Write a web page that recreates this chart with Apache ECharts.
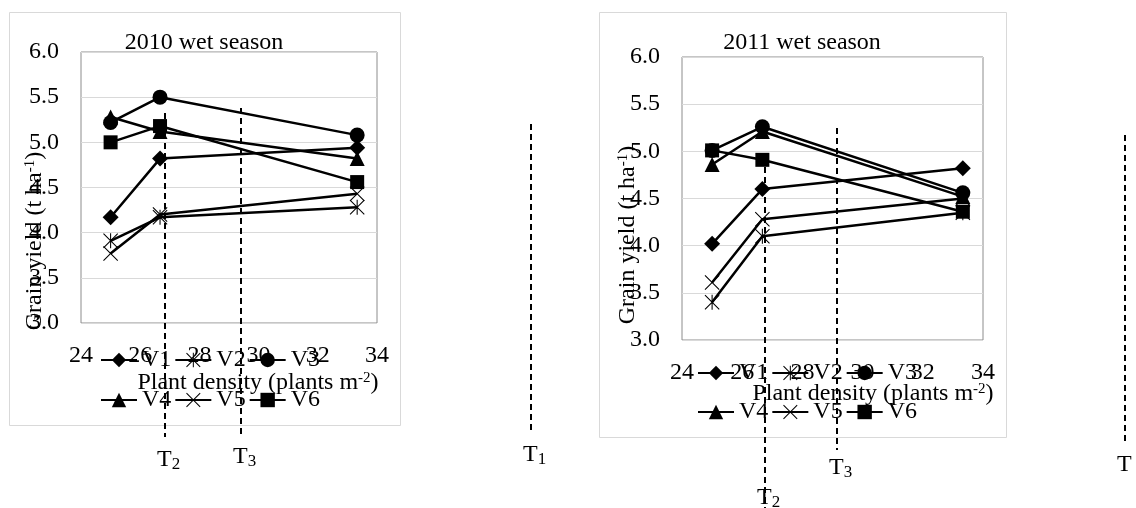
<!DOCTYPE html>
<html>
<head>
<meta charset="utf-8">
<script src="https://cdn.jsdelivr.net/npm/echarts@6/dist/echarts.min.js"></script>
<style>
  html, body { margin: 0; padding: 0; background: #fff; }
  #chart { width: 1136px; height: 508px; }
</style>
</head>
<body>
<div id="chart"></div>
<script>
// plant density (plants m-2)
const density = [25, 26.67, 33.33]
const xTicks = [24, 26, 28, 30, 32, 34]
const yTicks = [3.0, 3.5, 4.0, 4.5, 5.0, 5.5, 6.0]
const varieties = ['V1', 'V2', 'V3', 'V4', 'V5', 'V6']

// grain yield (t ha-1), 2010 wet season
const v1_2010 = [4.17, 4.82, 4.94]
const v2_2010 = [3.91, 4.17, 4.28]
const v3_2010 = [5.22, 5.50, 5.08]
const v4_2010 = [5.28, 5.12, 4.82]
const v5_2010 = [3.77, 4.20, 4.43]
const v6_2010 = [5.00, 5.18, 4.56]

// grain yield (t ha-1), 2011 wet season
const v1_2011 = [4.02, 4.60, 4.82]
const v2_2011 = [3.40, 4.10, 4.35]
const v3_2011 = [5.01, 5.26, 4.56]
const v4_2011 = [4.86, 5.21, 4.52]
const v5_2011 = [3.61, 4.28, 4.50]
const v6_2011 = [5.01, 4.91, 4.36]

const FONT = '"Liberation Serif", "Times New Roman", serif'

// 标记形状
const xPath = 'path://M1,0 L10,9 L19,0 L20,1 L11,10 L20,19 L19,20 L10,11 L1,20 L0,19 L9,10 L0,1 Z'
const starPath = 'path://M1,0 L10,9 L19,0 L20,1 L11,10 L20,19 L19,20 L10,11 L1,20 L0,19 L9,10 L0,1 Z M9.3,0 L10.7,0 L10.7,20 L9.3,20 Z'
const symbols = {
  V1: ['diamond', 16],
  V2: [starPath, 15],
  V3: ['circle', 15],
  V4: ['triangle', 15],
  V5: [xPath, 15],
  V6: ['rect', 14]
}

function makeSeries(name, values, idx) {
  return {
    name: name,
    type: 'line',
    xAxisIndex: idx,
    yAxisIndex: idx,
    data: values.map((v, i) => [density[i], v]),
    symbol: symbols[name][0],
    symbolSize: symbols[name][1],
    showAllSymbol: true,
    color: '#000',
    lineStyle: { color: '#000', width: 2.5 },
    itemStyle: { color: '#000' },
    animation: false
  }
}

const data2010 = [v1_2010, v2_2010, v3_2010, v4_2010, v5_2010, v6_2010]
const data2011 = [v1_2011, v2_2011, v3_2011, v4_2011, v5_2011, v6_2011]

// 面板布局
const panels = [
  { box: [9, 12, 391, 413], grid: [81, 52, 296, 271], title: [204, 43, '2010 wet season'],
    yName: [35, 241], xName: [258, 383], legendLeft: 100, legendRows: [361, 401] },
  { box: [599, 12, 407, 425], grid: [682, 57, 301, 283], title: [802, 43, '2011 wet season'],
    yName: [628, 235], xName: [873, 394], legendLeft: 697, legendRows: [374, 413] }
]
// 虚线 T 标注 [x, y1, y2, 标签, 标签y]
const tLines = [
  [165, 113, 437, '2', 460],
  [241, 108, 437, '3', 457],
  [531, 124, 433, '1', 455],
  [765, 167, 508, '2', 498],
  [837, 128, 450, '3', 468],
  [1125, 135, 443, '', 465]
]

const richSup = {
  a: { fontFamily: FONT, fontSize: 24, color: '#000' },
  s: { fontFamily: FONT, fontSize: 15, color: '#000', verticalAlign: 'top', padding: [0, 0, 9, 0] }
}
const richSub = {
  a: { fontFamily: FONT, fontSize: 24, color: '#000' },
  s: { fontFamily: FONT, fontSize: 17, color: '#000', verticalAlign: 'bottom', padding: [9, 0, 0, 0] }
}

const graphics = []
panels.forEach(p => {
  graphics.push({
    type: 'rect', z: -1,
    shape: { x: p.box[0] + 0.5, y: p.box[1] + 0.5, width: p.box[2], height: p.box[3] },
    style: { fill: 'none', stroke: '#d9d9d9', lineWidth: 1 }
  })
  graphics.push({
    type: 'text', x: p.title[0], y: p.title[1],
    style: { text: p.title[2], fontFamily: FONT, fontSize: 24, fill: '#000', align: 'center', verticalAlign: 'middle' }
  })
  graphics.push({
    type: 'text', x: p.yName[0], y: p.yName[1], rotation: Math.PI / 2, z: 5,
    style: { text: '{a|Grain yield (t ha}{s|-1}{a|)}', rich: richSup, align: 'center', verticalAlign: 'middle' }
  })
  graphics.push({
    type: 'text', x: p.xName[0], y: p.xName[1], z: 5,
    style: { text: '{a|Plant density (plants m}{s|-2}{a|)}', rich: richSup, align: 'center', verticalAlign: 'middle' }
  })
})
tLines.forEach(t => {
  graphics.push({
    type: 'line', z: 5,
    shape: { x1: t[0], y1: t[1], x2: t[0], y2: t[2] },
    style: { stroke: '#000', lineWidth: 2, lineDash: [6, 4] }
  })
  graphics.push({
    type: 'text', x: t[0] - 8, y: t[4], z: 5,
    style: { text: '{a|T}{s|' + t[3] + '}', rich: richSub, align: 'left', verticalAlign: 'middle' }
  })
})

const legends = []
panels.forEach(p => {
  [varieties.slice(0, 3), varieties.slice(3)].forEach((names, r) => {
    legends.push({
      data: names,
      left: p.legendLeft,
      top: p.legendRows[r] - 13,
      padding: 0,
      itemWidth: 36,
      itemHeight: 18,
      itemGap: 3,
      selectedMode: false,
      textStyle: { fontFamily: FONT, fontSize: 24, color: '#000', padding: [2, 0, 0, 0] }
    })
  })
})

const myChart = echarts.init(document.getElementById('chart'), null, { renderer: 'canvas' })
myChart.setOption({
  animation: false,
  backgroundColor: '#fff',
  grid: panels.map(p => ({
    left: p.grid[0], top: p.grid[1], width: p.grid[2], height: p.grid[3],
    show: true, borderColor: '#8c8c8c', borderWidth: 1, backgroundColor: 'transparent'
  })),
  xAxis: panels.map((p, i) => ({
    type: 'value', gridIndex: i,
    min: xTicks[0], max: xTicks[xTicks.length - 1], interval: 2,
    axisLine: { show: false }, axisTick: { show: false }, splitLine: { show: false },
    axisLabel: { fontFamily: FONT, fontSize: 24, color: '#000', margin: 21 }
  })),
  yAxis: panels.map((p, i) => ({
    type: 'value', gridIndex: i,
    min: yTicks[0], max: yTicks[yTicks.length - 1], interval: 0.5,
    axisLine: { show: false }, axisTick: { show: false },
    splitLine: { lineStyle: { color: '#d9d9d9', width: 1 } },
    axisLabel: { fontFamily: FONT, fontSize: 24, color: '#000', margin: 22, formatter: v => v.toFixed(1) }
  })),
  legend: legends,
  series: [
    ...varieties.map((n, k) => makeSeries(n, data2010[k], 0)),
    ...varieties.map((n, k) => makeSeries(n, data2011[k], 1))
  ],
  graphic: graphics
})
</script>
</body>
</html>
